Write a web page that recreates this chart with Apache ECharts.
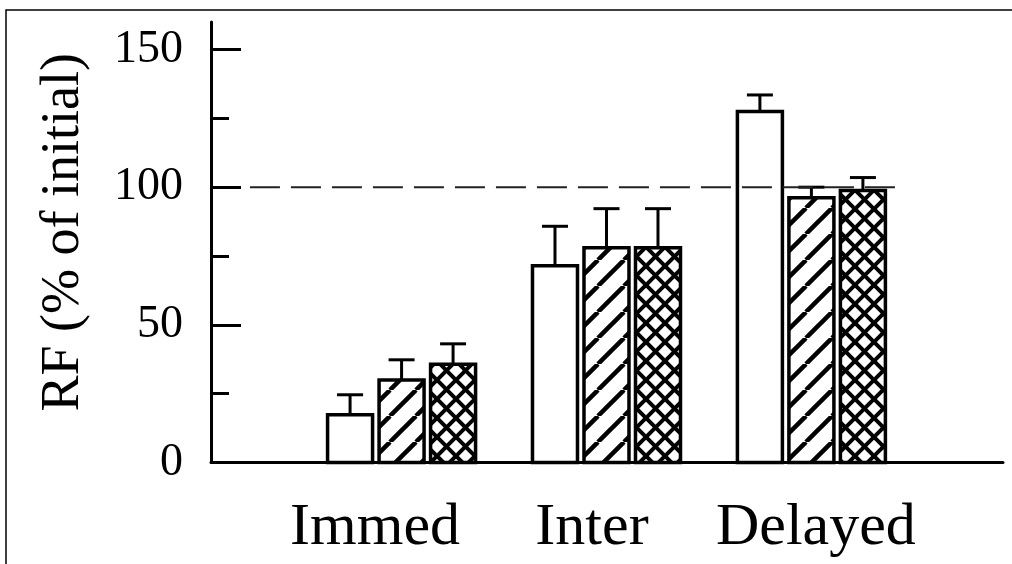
<!DOCTYPE html>
<html>
<head>
<meta charset="utf-8">
<script src="https://cdn.jsdelivr.net/npm/echarts@6/dist/echarts.min.js"></script>
<style>
  html, body { margin: 0; padding: 0; background: #fff; }
  #chart { width: 1012px; height: 564px; }
</style>
</head>
<body>
<div id="chart"></div>
<script>
// ---- data ----
const categories = ['Immed', 'Inter', 'Delayed'];

const plainMeans = [17.3, 71.5, 127.5];
const plainErrs = [7.3, 14.3, 6.0];

const hatchMeans = [30.0, 78.0, 96.2];
const hatchErrs = [7.3, 14.2, 3.8];

const crossMeans = [35.7, 78.0, 98.8];
const crossErrs = [7.4, 14.2, 4.7];

const majorTicks = [0, 50, 100, 150];
const minorTicks = [25, 75, 125];
const referenceLevel = 100;

// ---- look ----
const FONT = 'Liberation Serif, Times New Roman, serif';
const BAR_W = 45;       // rect width (stroke drawn on its edge)
const BAR_STEP = 51.5;  // centre-to-centre distance of bars in a group
const CAP_W = 26;       // error-bar cap width
const X_MIN = -0.93, X_MAX = 2.935;     // category index range of the x axis
const REF_FROM = -0.74, REF_TO = 2.42;  // extent of the dashed reference line

function makePattern(period, width, cross) {
  const c = document.createElement('canvas');
  c.width = c.height = period;
  const g = c.getContext('2d');
  g.fillStyle = '#fff';
  g.fillRect(0, 0, period, period);
  g.strokeStyle = '#000';
  g.lineWidth = width;
  for (const d of [-period, 0, period]) {
    g.beginPath(); g.moveTo(d, period); g.lineTo(d + period, 0); g.stroke();
    if (cross) { g.beginPath(); g.moveTo(d, 0); g.lineTo(d + period, period); g.stroke(); }
  }
  return { image: c, repeat: 'repeat' };
}

function barSeries(name, means, errs, slot, fill) {
  return {
    name: name,
    type: 'custom',
    z: 3,
    data: categories.map((c, i) => [i, means[i], errs[i]]),
    renderItem: function (params, api) {
      const xi = api.value(0), v = api.value(1), e = api.value(2);
      const base = api.coord([xi, 0]);
      const top = api.coord([xi, v]);
      const tip = api.coord([xi, v + e]);
      const cx = base[0] + slot * BAR_STEP;
      const ink = { stroke: '#000', lineWidth: 3 };
      return {
        type: 'group',
        children: [
          { type: 'line', shape: { x1: cx, y1: top[1], x2: cx, y2: tip[1] }, style: ink },
          { type: 'line', shape: { x1: cx - CAP_W / 2, y1: tip[1], x2: cx + CAP_W / 2, y2: tip[1] }, style: ink },
          { type: 'rect', shape: { x: cx - BAR_W / 2, y: top[1], width: BAR_W, height: base[1] - top[1] },
            style: { fill: fill, stroke: '#000', lineWidth: 3.5 } }
        ]
      };
    }
  };
}

const chart = echarts.init(document.getElementById('chart'), null, { renderer: 'canvas' });

const labelRich = {
  c0: { fontSize: 60, fontFamily: FONT, color: '#000', padding: [0, 53, 0, 0] },
  c1: { fontSize: 60, fontFamily: FONT, color: '#000', padding: [0, 29, 0, 0] },
  c2: { fontSize: 60, fontFamily: FONT, color: '#000', padding: [0, 0, 0, 9] }
};

chart.setOption({
  backgroundColor: '#fff',
  animation: false,
  graphic: [{
    type: 'rect',
    shape: { x: 6, y: 10, width: 1100, height: 700 },
    style: { fill: 'none', stroke: '#000', lineWidth: 1.5 },
    silent: true
  }],
  grid: { left: 211, right: 9, top: 22, bottom: 101.5 },
  xAxis: {
    type: 'value',
    min: X_MIN,
    max: X_MAX,
    splitLine: { show: false },
    axisLine: { show: true, onZero: false, lineStyle: { color: '#000', width: 3 } },
    axisTick: { show: false },
    axisLabel: {
      show: true,
      customValues: [0, 1, 2],
      margin: 36,
      formatter: function (v) {
        const i = Math.round(v);
        return '{c' + i + '|' + categories[i] + '}';
      },
      rich: labelRich
    }
  },
  yAxis: [{
    type: 'value',
    position: 'left',
    min: 0,
    max: 160,
    name: 'RF (% of initial)',
    nameLocation: 'middle',
    nameGap: 120,
    nameTextStyle: { fontSize: 54, fontFamily: FONT, color: '#000', padding: [0, 0, 0, 20] },
    splitLine: { show: false },
    axisLine: { show: true, onZero: false, lineStyle: { color: '#000', width: 3 } },
    axisTick: { show: true, inside: true, length: 30, customValues: majorTicks, lineStyle: { color: '#000', width: 3 } },
    axisLabel: { customValues: majorTicks, margin: 28, fontSize: 46, fontFamily: FONT, color: '#000' }
  }, {
    type: 'value',
    position: 'left',
    min: 0,
    max: 160,
    splitLine: { show: false },
    axisLine: { show: false, onZero: false },
    axisTick: { show: true, inside: true, length: 18, customValues: minorTicks, lineStyle: { color: '#000', width: 3 } },
    axisLabel: { show: false }
  }],
  series: [
    barSeries('plain', plainMeans, plainErrs, -1, '#fff'),
    barSeries('hatched', hatchMeans, hatchErrs, 0, makePattern(26, 4.5, false)),
    barSeries('crosshatched', crossMeans, crossErrs, 1, makePattern(19, 4, true)),
    {
      name: 'reference',
      type: 'line',
      z: 5,
      symbol: 'none',
      silent: true,
      data: [[REF_FROM, referenceLevel], [REF_TO, referenceLevel]],
      lineStyle: { color: '#222', width: 2, type: [30, 11] }
    }
  ]
});
</script>
</body>
</html>
